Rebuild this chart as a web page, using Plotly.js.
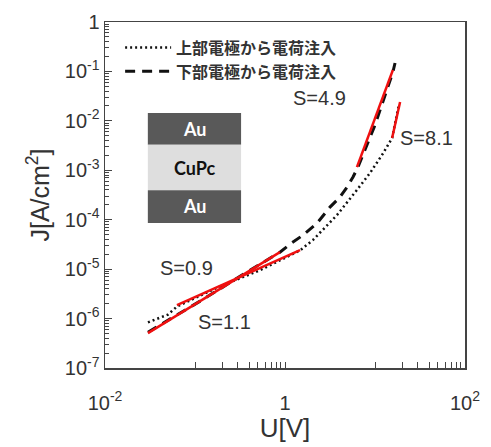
<!DOCTYPE html>
<html>
<head>
<meta charset="utf-8">
<script src="https://cdn.plot.ly/plotly-3.0.1.min.js"></script>
<style>html,body{margin:0;padding:0;background:#fff;}#chart{width:491px;height:447px;}</style>
</head>
<body>
<div id="chart"></div>
<script>
// Top-electrode injection (dotted)
const topU = [0.030, 0.050, 0.063, 0.19, 0.527, 1.47, 2.05, 3.78, 6.3, 8.8, 12.3, 15.5, 18.5];
const topJ = [8.4e-7, 1.2e-6, 1.75e-6, 4.5e-6, 9.5e-6, 2.4e-5, 3.9e-5, 1.24e-4, 4.0e-4, 8.8e-4, 2.2e-3, 4.5e-3, 2.2e-2];
// Bottom-electrode injection (dashed)
const botU = [0.030, 0.114, 0.408, 0.879, 1.137, 1.585, 2.27, 3.16, 4.08, 4.89, 5.70, 6.47, 10.0, 15.8, 16.7];
const botJ = [5.3e-7, 2.25e-6, 9.5e-6, 2.2e-5, 3.2e-5, 4.88e-5, 8.5e-5, 1.8e-4, 2.86e-4, 4.57e-4, 7.3e-4, 1.16e-3, 8.2e-3, 9.7e-2, 0.148];
// Fitted slopes (red)
const fit09U = [0.063, 1.47],  fit09J = [1.87e-6, 2.43e-5];
const fit11U = [0.030, 0.879], fit11J = [5.06e-7, 2.21e-5];
const fit49U = [6.3, 15.8],    fit49J = [1.16e-3, 0.107];
const fit81U = [15.5, 19.0],   fit81J = [4.5e-3, 0.024];

const seriesNames = ['上部電極から電荷注入', '下部電極から電荷注入'];
const slopeLabels = ['S=4.9', 'S=8.1', 'S=0.9', 'S=1.1'];
const layerLabels = ['Au', 'CuPc', 'Au'];

const xTickVals = [0.01, 0.1, 0.2, 0.3, 0.4, 0.5, 0.6, 0.7, 0.8, 0.9, 1, 10, 20, 30, 40, 50, 60, 70, 80, 90, 100];
const xTickText = ['10<sup>-2</sup>', '', '', '', '', '', '', '', '', '', '1', '', '', '', '', '', '', '', '', '', '10<sup>2</sup>'];
const yTickVals = [1e-7, 1e-6, 1e-5, 1e-4, 1e-3, 1e-2, 1e-1, 1];
const yTickText = ['10<sup>-7</sup>', '10<sup>-6</sup>', '10<sup>-5</sup>', '10<sup>-4</sup>', '10<sup>-3</sup>', '10<sup>-2</sup>', '10<sup>-1</sup>', '1'];

const txt = '#333333';
const red = '#f01010';
const FONT = 'Liberation Sans, Arial, sans-serif';

const traces = [
  {x: topU, y: topJ, mode: 'lines', name: seriesNames[0], line: {color: '#111', width: 2.5, dash: '2px,3px'}},
  {x: botU, y: botJ, mode: 'lines', name: seriesNames[1], line: {color: '#111', width: 3, dash: '10px,7px'}},
  {x: fit09U, y: fit09J, mode: 'lines', showlegend: false, line: {color: red, width: 2.5}},
  {x: fit11U, y: fit11J, mode: 'lines', showlegend: false, line: {color: red, width: 2.5}},
  {x: fit49U, y: fit49J, mode: 'lines', showlegend: false, line: {color: red, width: 2.5}},
  {x: fit81U, y: fit81J, mode: 'lines', showlegend: false, line: {color: red, width: 2.5}}
];

const shapes = [
  {type: 'rect', xref: 'paper', yref: 'paper', x0: 0.119, x1: 0.378, y0: 0.645, y1: 0.737, fillcolor: '#595959', line: {width: 0}},
  {type: 'rect', xref: 'paper', yref: 'paper', x0: 0.119, x1: 0.378, y0: 0.514, y1: 0.645, fillcolor: '#dedede', line: {width: 0}},
  {type: 'rect', xref: 'paper', yref: 'paper', x0: 0.119, x1: 0.378, y0: 0.419, y1: 0.514, fillcolor: '#595959', line: {width: 0}}
];

function ann(text, x, y, size, color, bold, family) {
  return {text: bold ? '<b>' + text + '</b>' : text, x: x, y: y, xref: 'paper', yref: 'paper',
          showarrow: false, xanchor: 'center', yanchor: 'middle',
          font: {size: size, color: color, family: family || FONT}};
}
const annotations = [
  ann(slopeLabels[0], 0.597, 0.780, 20, txt),
  ann(slopeLabels[1], 0.892, 0.665, 20, txt),
  ann(slopeLabels[2], 0.225, 0.289, 20, txt),
  ann(slopeLabels[3], 0.331, 0.133, 20, txt),
  ann(layerLabels[0], 0.249, 0.691, 18, '#ffffff', true, 'Lato, sans-serif'),
  ann(layerLabels[1], 0.249, 0.579, 18, '#111111', true, 'Lato, sans-serif'),
  ann(layerLabels[2], 0.249, 0.467, 18, '#ffffff', true, 'Lato, sans-serif')
];

const layout = {
  width: 491, height: 447,
  margin: {l: 105, r: 26, t: 22, b: 79},
  paper_bgcolor: '#fff', plot_bgcolor: '#fff',
  font: {family: FONT, color: txt},
  showlegend: true,
  legend: {x: 0.042, y: 0.975, xanchor: 'left', yanchor: 'top', bgcolor: 'rgba(0,0,0,0)',
           font: {family: 'Noto Sans CJK JP, sans-serif', size: 16, color: txt, weight: 'bold'},
           tracegroupgap: 0, itemwidth: 46},
  xaxis: {type: 'log', range: [-2, 2], tickmode: 'array', tickvals: xTickVals, ticktext: xTickText,
          ticks: 'inside', ticklen: 6, tickwidth: 1, tickcolor: '#444', ticklabelstandoff: 16,
          showline: true, linecolor: '#444', linewidth: 1.5, mirror: true, showgrid: false, zeroline: false,
          tickfont: {size: 20, color: txt}, title: {text: 'U[V]', font: {size: 26, color: txt}, standoff: 6}},
  yaxis: {type: 'log', range: [-7, 0], tickmode: 'array', tickvals: yTickVals, ticktext: yTickText,
          ticks: 'inside', ticklen: 7, tickwidth: 1, tickcolor: '#444',
          minor: {ticks: 'inside', ticklen: 4, dtick: 'D1', tickcolor: '#444', tickwidth: 1, showgrid: false},
          showline: true, linecolor: '#444', linewidth: 1.5, mirror: true, showgrid: false, zeroline: false,
          tickfont: {size: 20, color: txt}, title: {text: 'J[A/cm<sup>2</sup>]', font: {size: 25, color: txt}, standoff: 8}},
  shapes: shapes,
  annotations: annotations
};

Plotly.newPlot('chart', traces, layout, {displayModeBar: false, staticPlot: true});
</script>
</body>
</html>
